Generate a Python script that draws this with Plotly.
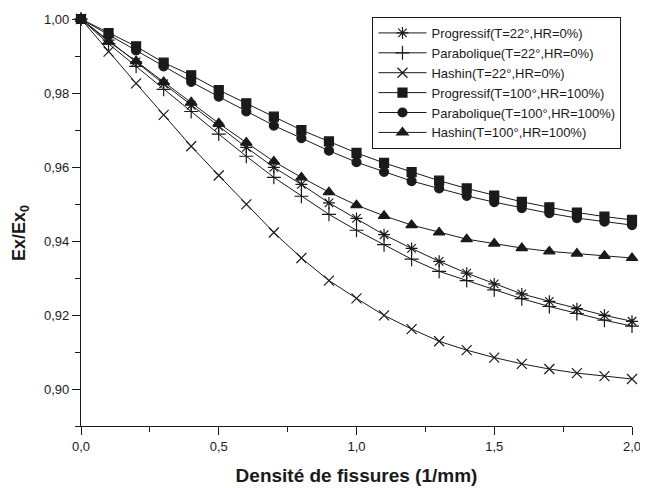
import plotly.graph_objects as go

densite = [0.0, 0.1, 0.2, 0.3, 0.4, 0.5, 0.6, 0.7, 0.8, 0.9, 1.0,
           1.1, 1.2, 1.3, 1.4, 1.5, 1.6, 1.7, 1.8, 1.9, 2.0]

prog_22 = [1.0, 0.9943, 0.9884, 0.9825, 0.9767, 0.9710, 0.9653, 0.9599, 0.9553, 0.9503, 0.9461,
           0.9417, 0.9380, 0.9345, 0.9313, 0.9284, 0.9257, 0.9237, 0.9217, 0.9199, 0.9183]
para_22 = [1.0, 0.9933, 0.9872, 0.9810, 0.9750, 0.9689, 0.9629, 0.9572, 0.9521, 0.9472, 0.9429,
           0.9390, 0.9351, 0.9318, 0.9293, 0.9268, 0.9244, 0.9223, 0.9204, 0.9186, 0.9170]
hash_22 = [1.0, 0.9912, 0.9826, 0.9741, 0.9656, 0.9577, 0.9499, 0.9423, 0.9354, 0.9293, 0.9245,
           0.9199, 0.9162, 0.9129, 0.9105, 0.9085, 0.9068, 0.9054, 0.9043, 0.9035, 0.9027]
prog_100 = [1.0, 0.9962, 0.9926, 0.9882, 0.9848, 0.9808, 0.9772, 0.9736, 0.9700, 0.9669, 0.9638,
            0.9611, 0.9586, 0.9563, 0.9542, 0.9523, 0.9506, 0.9491, 0.9477, 0.9466, 0.9457]
para_100 = [1.0, 0.9957, 0.9915, 0.9872, 0.9830, 0.9790, 0.9750, 0.9712, 0.9678, 0.9644, 0.9613,
            0.9587, 0.9562, 0.9542, 0.9522, 0.9505, 0.9489, 0.9475, 0.9462, 0.9452, 0.9443]
hash_100 = [1.0, 0.9939, 0.9886, 0.9830, 0.9775, 0.9718, 0.9666, 0.9615, 0.9572, 0.9532, 0.9497,
            0.9468, 0.9443, 0.9423, 0.9405, 0.9393, 0.9381, 0.9372, 0.9366, 0.9360, 0.9354]

names = ["Progressif(T=22°,HR=0%)", "Parabolique(T=22°,HR=0%)", "Hashin(T=22°,HR=0%)",
         "Progressif(T=100°,HR=100%)", "Parabolique(T=100°,HR=100%)", "Hashin(T=100°,HR=100%)"]
series = [prog_22, para_22, hash_22, prog_100, para_100, hash_100]
symbols = ["asterisk-open", "cross-thin-open", "x-thin-open", "square", "circle", "triangle-up"]
sizes = [10, 10, 10, 9, 9, 10]

x_title = "<b>Densité de fissures (1/mm)</b>"
y_title = "<b>Ex/Ex<sub>0</sub></b>"

INK = "#1a1a1a"
FONT = "Liberation Sans, Arial, sans-serif"

fig = go.Figure()
for name, ys, sym, sz in zip(names, series, symbols, sizes):
    fig.add_trace(go.Scatter(
        x=densite, y=ys, name=name, mode="lines+markers",
        line=dict(color=INK, width=1),
        marker=dict(symbol=sym, size=sz, color=INK, line=dict(color=INK, width=1.2)),
        cliponaxis=False,
    ))

fig.update_layout(
    width=648, height=488,
    margin=dict(l=73, r=24, t=9, b=70),
    plot_bgcolor="white", paper_bgcolor="white",
    separators=", ",
    font=dict(family=FONT, size=13, color=INK),
    showlegend=True,
    legend=dict(
        x=0.529, y=1.005, xanchor="left", yanchor="top",
        bordercolor=INK, borderwidth=1, bgcolor="white",
        itemwidth=48,
        font=dict(family=FONT, size=13, color=INK),
    ),
    xaxis=dict(
        range=[0, 2.0], tick0=0, dtick=0.5, tickformat=".1f",
        automargin=False,
        showline=True, linecolor=INK, linewidth=1.2, mirror=False,
        ticks="outside", ticklen=8, tickwidth=1, tickcolor=INK,
        minor=dict(dtick=0.25, ticks="outside", ticklen=5, tickcolor=INK, showgrid=False),
        showgrid=False, zeroline=False,
        title=dict(text=x_title, font=dict(size=19, family=FONT), standoff=15),
        tickfont=dict(size=13),
    ),
    yaxis=dict(
        range=[0.89, 1.0], tick0=0.90, dtick=0.02, tickformat=".2f",
        automargin=False,
        showline=True, linecolor=INK, linewidth=1.2, mirror=False,
        ticks="outside", ticklen=8, tickwidth=1, tickcolor=INK,
        minor=dict(dtick=0.01, ticks="outside", ticklen=5, tickcolor=INK, showgrid=False),
        showgrid=False, zeroline=False,
        tickfont=dict(size=13),
    ),
    annotations=[dict(
        text=y_title, textangle=-90, showarrow=False,
        xref="paper", yref="paper", x=-0.1107, y=0.474,
        xanchor="center", yanchor="middle",
        font=dict(size=18, family=FONT, color=INK),
    )],
)

fig.write_html("out.html")
